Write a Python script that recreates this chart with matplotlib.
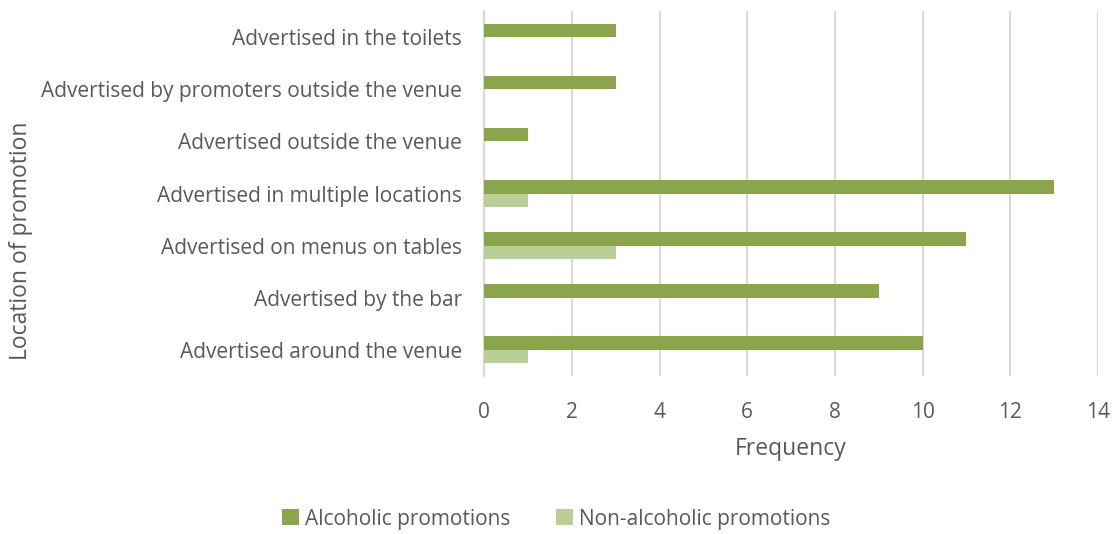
import matplotlib.pyplot as plt
import numpy as np

plt.rcParams['font.family'] = ['Open Sans', 'DejaVu Sans']

# categories from bottom to top
locations = [
    'Advertised around the venue',
    'Advertised by the bar',
    'Advertised on menus on tables',
    'Advertised in multiple locations',
    'Advertised outside the venue',
    'Advertised by promoters outside the venue',
    'Advertised in the toilets',
]
alcoholic = [10, 9, 11, 13, 1, 3, 3]
non_alcoholic = [1, 0, 3, 1, 0, 0, 0]
xticks = [0, 2, 4, 6, 8, 10, 12, 14]

c_alc = '#8BA54E'
c_non = '#B9CF97'
txt = '#595959'

fig = plt.figure(figsize=(11.13, 5.34), dpi=100)
ax = fig.add_axes([0.435, 0.296, 0.5515, 0.683])

y = np.arange(len(locations))
h = 0.26
ax.barh(y + h / 2, alcoholic, height=h, color=c_alc, label='Alcoholic promotions', zorder=3)
ax.barh(y - h / 2, non_alcoholic, height=h, color=c_non, label='Non-alcoholic promotions', zorder=3)

ax.set_xlim(0, 14)
ax.set_ylim(-0.5, len(locations) - 0.5)
ax.set_xticks(xticks)
ax.set_yticks(y)
ax.set_yticklabels(locations)
ax.grid(axis='x', color='#D9D9D9', linewidth=1.5, zorder=0)
for s in ['top', 'right', 'bottom']:
    ax.spines[s].set_visible(False)
ax.spines['left'].set_color('#D9D9D9')
ax.spines['left'].set_linewidth(1.5)
ax.tick_params(axis='both', length=0, colors=txt, labelsize=15)
ax.tick_params(axis='x', pad=19)
ax.tick_params(axis='y', pad=16)

ax.set_xlabel('Frequency', fontsize=16.5, color=txt, labelpad=10)
fig.text(0.019, 0.55, 'Location of promotion', rotation=90, fontsize=16.5,
         color=txt, ha='center', va='center')

leg = fig.legend(loc='center', bbox_to_anchor=(0.5, 0.028), ncol=2, frameon=False,
                 fontsize=15, handlelength=0.8, handleheight=0.8,
                 handletextpad=0.3, columnspacing=2.2)
for t in leg.get_texts():
    t.set_color(txt)

fig.savefig('out.png', dpi=100)
